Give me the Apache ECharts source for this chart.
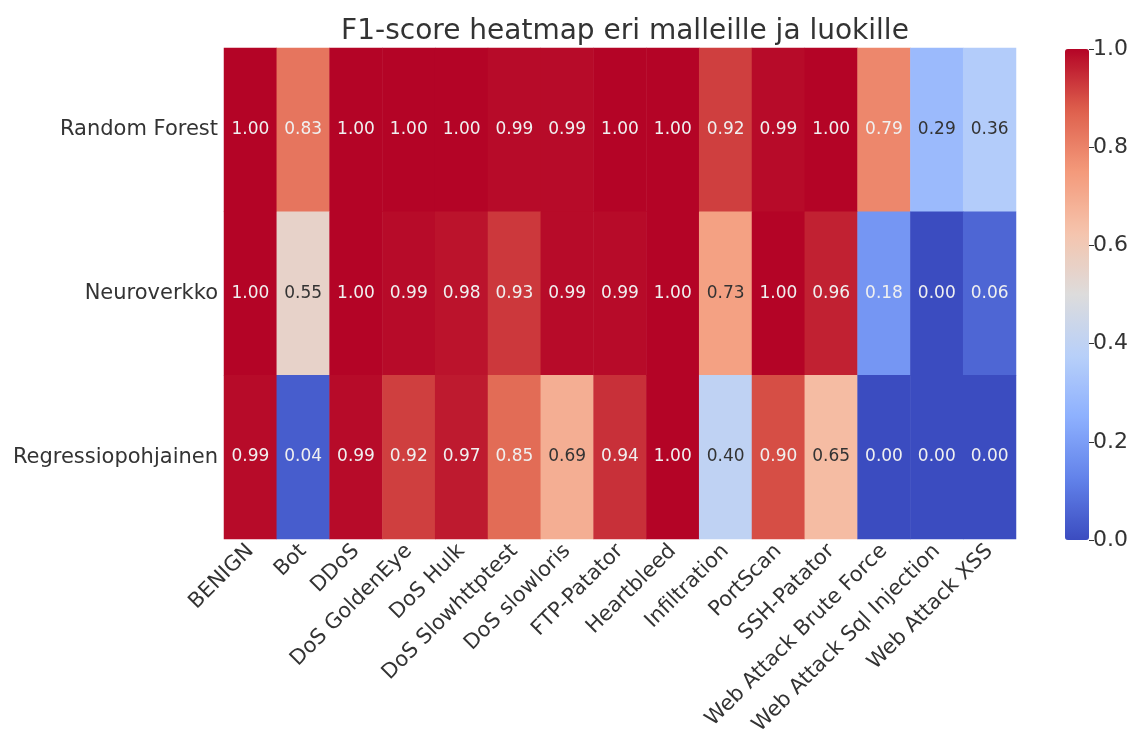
<!DOCTYPE html>
<html>
<head>
<meta charset="utf-8">
<script src="https://cdn.jsdelivr.net/npm/echarts@6/dist/echarts.min.js"></script>
<style>
  html, body { margin: 0; padding: 0; background: #fff; }
  #chart { width: 1132px; height: 738px; }
</style>
</head>
<body>
<div id="chart"></div>
<script>
const classes = ['BENIGN', 'Bot', 'DDoS', 'DoS GoldenEye', 'DoS Hulk', 'DoS Slowhttptest',
  'DoS slowloris', 'FTP-Patator', 'Heartbleed', 'Infiltration', 'PortScan', 'SSH-Patator',
  'Web Attack Brute Force', 'Web Attack Sql Injection', 'Web Attack XSS']
const models = ['Random Forest', 'Neuroverkko', 'Regressiopohjainen']

const randomForest = [1.00, 0.83, 1.00, 1.00, 1.00, 0.99, 0.99, 1.00, 1.00, 0.92, 0.99, 1.00, 0.79, 0.29, 0.36]
const neuroverkko = [1.00, 0.55, 1.00, 0.99, 0.98, 0.93, 0.99, 0.99, 1.00, 0.73, 1.00, 0.96, 0.18, 0.00, 0.06]
const regressio = [0.99, 0.04, 0.99, 0.92, 0.97, 0.85, 0.69, 0.94, 1.00, 0.40, 0.90, 0.65, 0.00, 0.00, 0.00]

const colorbarTicks = [0, 0.2, 0.4, 0.6, 0.8, 1.0]

// coolwarm
const coolwarm = ['#3b4cc0', '#6282ea', '#8db0fe', '#b8d0f9', '#dddcdc', '#f5c4ad', '#f49a7b', '#de604d', '#b40426']

const rows = [randomForest, neuroverkko, regressio]
let data = []
rows.forEach((vals, r) => {
  vals.forEach((v, c) => {
    let dark = v >= 0.25 && v <= 0.76
    data.push({
      value: [c, r, v],
      label: { color: dark ? '#333333' : '#f0f0f0' }
    })
  })
})

const font = 'DejaVu Sans'

let option = {
  animation: false,
  backgroundColor: '#fff',
  textStyle: { fontFamily: font },
  title: {
    text: 'F1-score heatmap eri malleille ja luokille',
    left: 620,
    textAlign: 'center',
    top: 13,
    textStyle: { fontFamily: font, fontSize: 28, fontWeight: 'normal', color: '#333333' }
  },
  grid: [
    { left: 224, right: 116, top: 48, bottom: 199 },
    { left: 1065, width: 24, top: 49, bottom: 198 }
  ],
  xAxis: [
    {
      type: 'category',
      data: classes,
      gridIndex: 0,
      axisLine: { show: false },
      axisTick: { show: true, inside: true, length: 4, alignWithLabel: true, lineStyle: { color: '#333' } },
      splitArea: { show: false },
      axisLabel: { rotate: 45, fontSize: 21, color: '#333333', fontFamily: font, margin: 9, interval: 0 }
    },
    { type: 'category', gridIndex: 1, data: ['cb'], show: false }
  ],
  yAxis: [
    {
      type: 'category',
      data: models,
      inverse: true,
      gridIndex: 0,
      axisLine: { show: false },
      axisTick: { show: true, inside: true, length: 5, alignWithLabel: true, lineStyle: { color: '#333' } },
      axisLabel: { fontSize: 21, color: '#333333', fontFamily: font, margin: 6 }
    },
    {
      type: 'value',
      gridIndex: 1,
      position: 'right',
      min: 0,
      max: 1,
      interval: 0.2,
      axisLine: { show: false },
      splitLine: { show: false },
      axisTick: { show: true, length: 5, lineStyle: { color: '#333' } },
      axisLabel: {
        fontSize: 22, color: '#333333', fontFamily: font, margin: 4,
        formatter: v => colorbarTicks.some(t => Math.abs(t - v) < 1e-6) ? v.toFixed(1) : ''
      }
    }
  ],
  visualMap: {
    type: 'continuous',
    min: 0,
    max: 1,
    seriesIndex: 0,
    left: 1065,
    top: 49,
    padding: 0,
    itemWidth: 24,
    itemHeight: 491,
    calculable: false,
    showLabel: false,
    text: ['', ''],
    inRange: { color: coolwarm }
  },
  series: [
    {
      type: 'heatmap',
      xAxisIndex: 0,
      yAxisIndex: 0,
      data: data,
      label: {
        show: true,
        fontSize: 17,
        fontFamily: font,
        formatter: p => p.value[2].toFixed(2)
      },
      itemStyle: { borderWidth: 0 },
      emphasis: { disabled: true }
    }
  ]
}

let chart = echarts.init(document.getElementById('chart'))
chart.setOption(option)
</script>
</body>
</html>
